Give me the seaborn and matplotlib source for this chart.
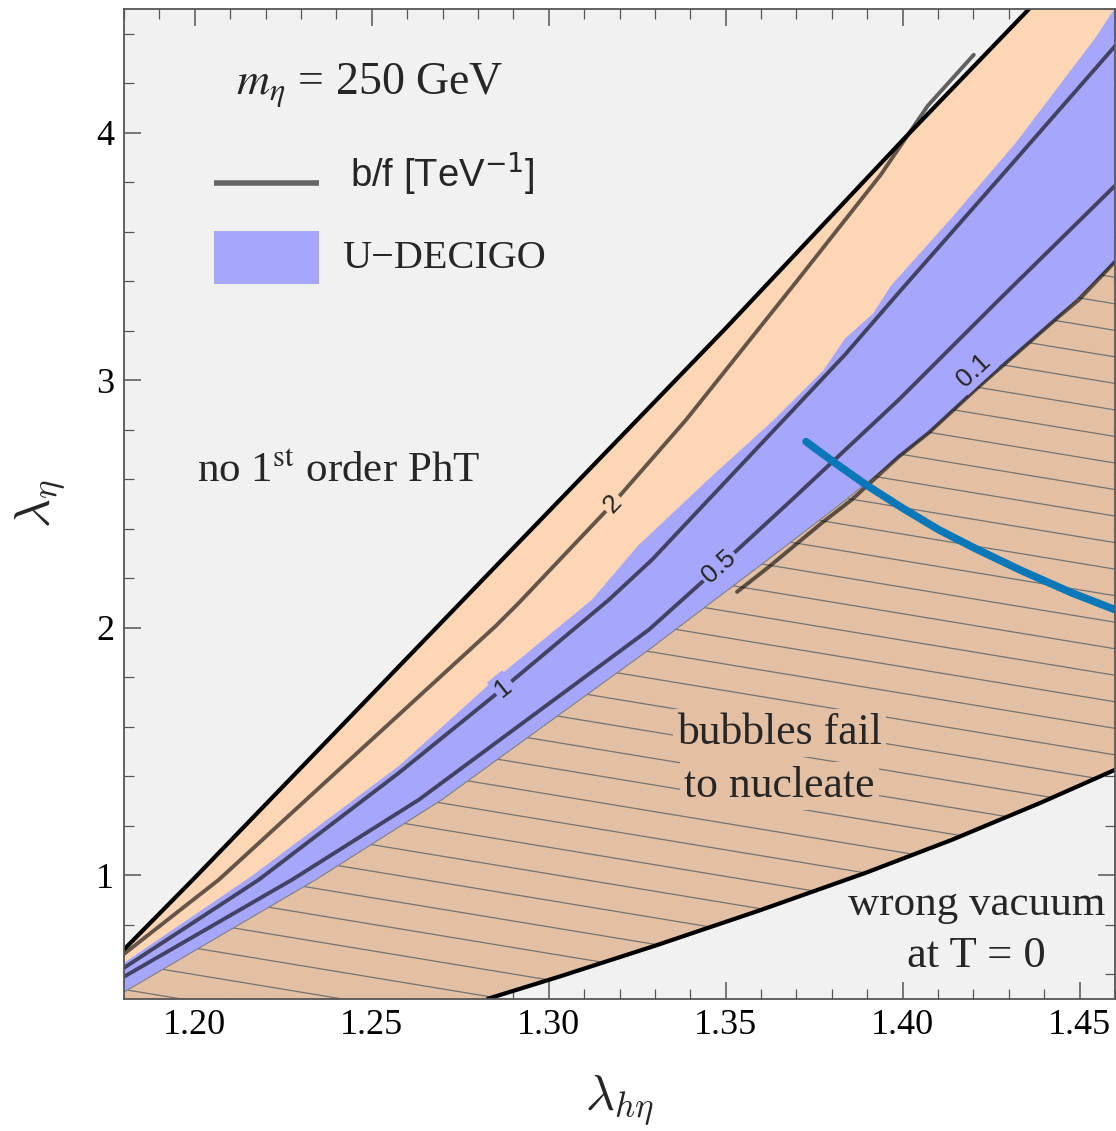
import numpy as np
import matplotlib
matplotlib.use("Agg")
import matplotlib.pyplot as plt
import seaborn as sns
from matplotlib.collections import LineCollection
from matplotlib.patches import Rectangle
from matplotlib.ticker import MultipleLocator, FormatStrFormatter

# ---------------- data ----------------
XMIN, XMAX = 1.18, 1.46
YMIN, YMAX = 0.5, 4.5

# upper boundary: no first-order phase transition above
upper_x = [1.18, 1.20, 1.25, 1.30, 1.35, 1.40, 1.4357]
upper_y = [0.70, 0.99, 1.73, 2.47, 3.21, 3.97, 4.50]

# lower boundary: wrong vacuum at T=0 below
lower_x = [1.2828, 1.3029, 1.3300, 1.3594, 1.3896, 1.4139, 1.4390, 1.4600]
lower_y = [0.501, 0.590, 0.715, 0.857, 1.010, 1.143, 1.293, 1.426]

# U-DECIGO sensitivity band
decigo_top_x = [1.18, 1.2162, 1.2577, 1.2840, 1.3122, 1.3252, 1.3453, 1.3633,
                1.3775, 1.3837, 1.3916, 1.3967, 1.4139, 1.4320, 1.4543, 1.4591, 1.46]
decigo_top_y = [0.646, 0.998, 1.442, 1.782, 2.113, 2.331, 2.602, 2.836,
                3.038, 3.168, 3.269, 3.382, 3.657, 3.960, 4.380, 4.485, 4.50]
decigo_bot_x = [1.18, 1.2342, 1.2698, 1.3283, 1.3678, 1.3840,
                1.3989, 1.4074, 1.4215, 1.4441, 1.46]
decigo_bot_y = [0.528, 0.982, 1.305, 1.911, 2.339, 2.517,
                2.691, 2.788, 2.974, 3.257, 3.479]

# b/f contours [TeV^-1]
c2_x = [1.18, 1.2068, 1.2848, 1.2916, 1.3181, 1.3388, 1.3704, 1.3938, 1.4071, 1.4201]
c2_y = [0.682, 0.982, 2.004, 2.101, 2.501, 2.840, 3.406, 3.830, 4.109, 4.315]
c1_x = [1.18, 1.2181, 1.2577, 1.2873, 1.3170, 1.3292, 1.3837, 1.3989, 1.4272, 1.46]
c1_y = [0.626, 0.982, 1.414, 1.757, 2.113, 2.275, 3.103, 3.354, 3.814, 4.35]
c05_x = [1.18, 1.2275, 1.2633, 1.3283, 1.3481, 1.3687, 1.3989, 1.4272, 1.46]
c05_y = [0.590, 0.982, 1.305, 1.992, 2.246, 2.517, 2.921, 3.325, 3.786]
c01_x = [1.3532, 1.3622, 1.3772, 1.3856, 1.3989, 1.4074, 1.4215, 1.4441, 1.4498, 1.46]
c01_y = [2.145, 2.246, 2.424, 2.517, 2.691, 2.788, 2.974, 3.257, 3.325, 3.479]

contour_labels = ["2", "1", "0.5", "0.1"]
label_x = [1.3181, 1.2873, 1.3481, 1.4200]
label_y = [2.501, 1.757, 2.246, 3.040]

# benchmark curve (blue)
bench_x = [1.3727, 1.3800, 1.3896, 1.3998, 1.4102, 1.4207, 1.4337, 1.4478, 1.46]
bench_y = [2.752, 2.675, 2.578, 2.485, 2.396, 2.319, 2.230, 2.141, 2.073]

# ---------------- style ----------------
sns.set_style("ticks")
plt.rcParams["font.family"] = ["Liberation Serif", "DejaVu Serif"]
plt.rcParams["mathtext.fontset"] = "stix"

GRAY_BG = "#f1f1f1"
PEACH = "#fdd6b5"
BLUE = "#a6a6fa"
TAN = "#e3c0a3"
FRAME = "#555555"
SANS = ["Liberation Sans", "DejaVu Sans"]

W, H = 1116, 1131
fig = plt.figure(figsize=(W / 100, H / 100), dpi=100)
ax = fig.add_axes([124 / W, 1 - 999 / H, (1115 - 124) / W, (999 - 9) / H])
ax.set_facecolor(GRAY_BG)
ax.set_xlim(XMIN, XMAX)
ax.set_ylim(YMIN, YMAX)

# peach region (first order PhT possible)
px_ = list(upper_x) + [XMAX] + lower_x[::-1] + [XMIN]
py_ = list(upper_y) + [YMAX] + lower_y[::-1] + [YMIN]
ax.fill(px_, py_, color=PEACH, lw=0, zorder=1)

# bubbles fail to nucleate (hatched)
hx = list(decigo_bot_x) + lower_x[::-1] + [XMIN]
hy = list(decigo_bot_y) + lower_y[::-1] + [YMIN]
hatch_patch = ax.fill(hx, hy, color=TAN, lw=0, zorder=2)[0]

# hatch lines (decoration), clipped to the hatched region
slope = -0.165
spacing = 0.0268
c0 = 0.760
segs = [[(0, c0 + k * spacing), (1, c0 + k * spacing + slope)] for k in range(-40, 60)]
lc = LineCollection(segs, colors="#737373", linewidths=0.9, transform=ax.transAxes, zorder=3)
ax.add_collection(lc)
lc.set_clip_path(hatch_patch)

# U-DECIGO band
bx = list(decigo_top_x) + decigo_bot_x[::-1]
by = list(decigo_top_y) + decigo_bot_y[::-1]
ax.fill(bx, by, color=BLUE, lw=0, zorder=4)
sns.lineplot(x=decigo_bot_x, y=decigo_bot_y, ax=ax, color="#808080", lw=0.8,
             estimator=None, sort=False, zorder=4.5)

# boundaries
sns.lineplot(x=upper_x, y=upper_y, ax=ax, color="black", lw=3.0,
             estimator=None, sort=False, zorder=6)
sns.lineplot(x=lower_x, y=lower_y, ax=ax, color="black", lw=3.0,
             estimator=None, sort=False, zorder=6)

# contours
for cx, cy in [(c2_x, c2_y), (c1_x, c1_y), (c05_x, c05_y), (c01_x, c01_y)]:
    sns.lineplot(x=cx, y=cy, ax=ax, color="black", alpha=0.6, lw=2.8,
                 estimator=None, sort=False, zorder=7)

# benchmark curve
sns.lineplot(x=bench_x, y=bench_y, ax=ax, color="#0a78b8", lw=5.5,
             estimator=None, sort=False, zorder=8, solid_capstyle="round")


def screen_angle(xs, ys, x0):
    pts = ax.transData.transform(np.column_stack([xs, ys]))
    i = int(np.searchsorted(xs, x0)) - 1
    i = max(0, min(i, len(xs) - 2))
    d = pts[i + 1] - pts[i]
    return np.degrees(np.arctan2(d[1], d[0]))


label_curves = [(c2_x, c2_y, PEACH), (c1_x, c1_y, BLUE), (c05_x, c05_y, BLUE), (c01_x, c01_y, BLUE)]
for txt, lx, ly, (cx, cy, fc) in zip(contour_labels, label_x, label_y, label_curves):
    ang = screen_angle(cx, cy, lx)
    ax.text(lx, ly, txt, rotation=ang, rotation_mode="anchor", ha="center", va="center",
            fontsize=19, family=SANS, zorder=9,
            bbox=dict(boxstyle="square,pad=0.1", fc=fc, ec="none"))

# ---------------- ticks / frame ----------------
ax.xaxis.set_major_locator(MultipleLocator(0.05))
ax.xaxis.set_minor_locator(MultipleLocator(0.01))
ax.yaxis.set_major_locator(MultipleLocator(1))
ax.yaxis.set_minor_locator(MultipleLocator(0.2))
ax.xaxis.set_major_formatter(FormatStrFormatter("%.2f"))
ax.yaxis.set_major_formatter(FormatStrFormatter("%d"))
ax.tick_params(which="both", direction="in", top=True, right=True, colors=FRAME,
               labelcolor="black", labelsize=26)
ax.tick_params(which="major", length=12, width=1.1, pad=7)
ax.tick_params(which="minor", length=7, width=0.9)
for s in ax.spines.values():
    s.set_color(FRAME)
    s.set_linewidth(1.3)
    s.set_zorder(20)

ax.set_xlabel(r"$\lambda_{h\eta}$", fontsize=36, math_fontfamily="cm", labelpad=22)
ax.set_ylabel(r"$\lambda_{\eta}$", fontsize=36, math_fontfamily="cm", labelpad=20)

# ---------------- annotations / legend ----------------
ax.text(0.1129, 0.913, r"$m_\eta$ = 250 GeV", transform=ax.transAxes, fontsize=33,
        va="baseline", ha="left", zorder=10)
ax.plot([0.0907, 0.1966], [0.824, 0.824], transform=ax.transAxes, color="#666666",
        lw=4, solid_capstyle="butt", zorder=10)
ax.text(0.2278, 0.820, r"b/f [TeV$^{-1}$]", transform=ax.transAxes, fontsize=27.5,
        family=SANS, math_fontfamily="dejavusans", va="baseline", ha="left", zorder=10)
ax.add_patch(Rectangle((0.0907, 0.722), 0.1059, 0.054, transform=ax.transAxes,
                       facecolor=BLUE, edgecolor="none", zorder=10))
ax.text(0.2198, 0.738, "U\u2212DECIGO", transform=ax.transAxes, fontsize=29,
        va="baseline", ha="left", zorder=10)
ax.text(0.0736, 0.522, r"no 1$^{\mathrm{st}}$ order PhT", transform=ax.transAxes,
        fontsize=31, va="baseline", ha="left", zorder=10)
for t, yy in [("bubbles fail", 0.2576), ("to nucleate", 0.204)]:
    ax.text(0.6613, yy, t, transform=ax.transAxes, fontsize=31.5, va="baseline",
            ha="center", zorder=10,
            bbox=dict(boxstyle="square,pad=0.1", fc=TAN, ec="none"))
ax.text(0.860, 0.0848, "wrong vacuum", transform=ax.transAxes, fontsize=31,
        va="baseline", ha="center", zorder=10)
ax.text(0.860, 0.0323, "at T = 0", transform=ax.transAxes, fontsize=32,
        va="baseline", ha="center", zorder=10)

fig.savefig("out.png", dpi=100, facecolor="white")
